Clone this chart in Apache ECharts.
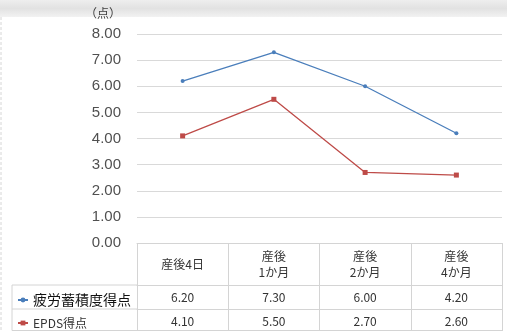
<!DOCTYPE html>
<html>
<head>
<meta charset="utf-8">
<script src="https://cdn.jsdelivr.net/npm/echarts@6/dist/echarts.min.js"></script>
<style>
  html, body { margin: 0; padding: 0; background: #fff; }
  #chart { width: 507px; height: 331px; }
</style>
</head>
<body>
<div id="chart"></div>
<script>
var categories = ['産後4日', '産後\n1か月', '産後\n2か月', '産後\n4か月'];
var fatigue = [6.20, 7.30, 6.00, 4.20];
var epds = [4.10, 5.50, 2.70, 2.60];
var seriesNames = ['疲労蓄積度得点', 'EPDS得点'];

var font = '"Noto Sans CJK JP", "Noto Sans", sans-serif';
var gridL = 137, gridR = 5, gridT = 34, gridB = 88;

var myChart = echarts.init(document.getElementById('chart'));

function valueAxis(arr, offset) {
    return {
        type: 'category',
        data: categories,
        position: 'bottom',
        offset: offset,
        axisLine: { show: true, lineStyle: { color: '#d4d4d4' } },
        axisTick: { show: false },
        axisLabel: {
            margin: 12,
            verticalAlign: 'middle',
            fontFamily: font,
            fontSize: 12,
            color: '#333',
            formatter: function (v, i) { return arr[i].toFixed(2); }
        }
    };
}

function rowLegend(name, top, size, color) {
    return {
        left: 12,
        top: top,
        itemWidth: 10,
        itemHeight: 6,
        itemGap: 0,
        data: [name],
        textStyle: { fontFamily: font, fontSize: size, color: color }
    };
}

myChart.setOption({
    animation: false,
    textStyle: { fontFamily: font },
    grid: { left: gridL, right: gridR, top: gridT, bottom: gridB },
    legend: [
        rowLegend(seriesNames[0], 288, 14, '#111'),
        rowLegend(seriesNames[1], 312, 12, '#333')
    ],
    xAxis: [{
        type: 'category',
        data: categories,
        boundaryGap: true,
        axisLine: { lineStyle: { color: '#d4d4d4' } },
        axisTick: { show: true, length: 88, lineStyle: { color: '#d4d4d4' } },
        axisLabel: {
            margin: 21,
            verticalAlign: 'middle',
            lineHeight: 16,
            fontFamily: font,
            fontSize: 12,
            color: '#333'
        }
    }, valueAxis(fatigue, 42), valueAxis(epds, 66)],
    yAxis: {
        type: 'value',
        min: 0,
        max: 8,
        interval: 1,
        name: '（点）',
        nameLocation: 'end',
        nameGap: 15,
        nameTextStyle: { fontSize: 12, color: '#404040', align: 'right', padding: [0, 16, 0, 0], fontFamily: font },
        axisLine: { show: false },
        axisTick: { show: false },
        axisLabel: {
            margin: 16,
            fontSize: 15,
            color: '#505050',
            fontFamily: 'Liberation Sans, sans-serif',
            formatter: function (v) { return v.toFixed(2); }
        },
        splitLine: { lineStyle: { color: '#d9d9d9' } }
    },
    series: [{
        name: seriesNames[0],
        type: 'line',
        data: fatigue,
        symbol: 'circle',
        symbolSize: 4,
        color: '#4a7ebb',
        lineStyle: { width: 1.3 }
    }, {
        name: seriesNames[1],
        type: 'line',
        data: epds,
        symbol: 'rect',
        symbolSize: 5,
        color: '#be4b48',
        lineStyle: { width: 1.3 }
    }],
    graphic: [
        {
            type: 'rect',
            shape: { x: 0, y: 0, width: 507, height: 17 },
            style: {
                fill: new echarts.graphic.LinearGradient(0, 0, 0, 1, [
                    { offset: 0, color: '#eeeeee' },
                    { offset: 0.5, color: '#e2e2e2' },
                    { offset: 1, color: '#f2f2f2' }
                ])
            },
            silent: true
        },
        {
            type: 'line',
            shape: { x1: 1, y1: 17, x2: 1, y2: 331 },
            style: { stroke: '#d6d6d6', lineWidth: 1, lineDash: [3, 2] },
            silent: true
        },
        {
            type: 'polyline',
            shape: { points: [[gridL, 285], [12, 285], [12, 330.5], [502, 330.5]] },
            style: { stroke: '#d4d4d4', fill: null, lineWidth: 1 },
            silent: true
        },
        {
            type: 'line',
            shape: { x1: 12, y1: 309, x2: gridL, y2: 309 },
            style: { stroke: '#d4d4d4', lineWidth: 1 },
            silent: true
        }
    ]
});
</script>
</body>
</html>
